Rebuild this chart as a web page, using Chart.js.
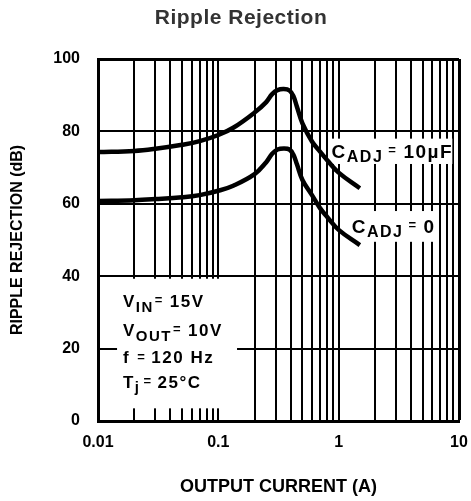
<!DOCTYPE html>
<html>
<head>
<meta charset="utf-8">
<title>Ripple Rejection</title>
<script src="https://cdn.jsdelivr.net/npm/chart.js@4.4.1/dist/chart.umd.min.js"></script>
<style>
  html, body { margin: 0; padding: 0; background: #fff; overflow: hidden; }
  #wrap { position: relative; width: 471px; height: 501px; }
  #rippleChart { display: block; }
</style>
</head>
<body>
<div id="wrap"><canvas id="rippleChart"></canvas></div>
<script>
// Data (output current in A, rejection in dB)
const currentA = [0.01, 0.02, 0.03, 0.05, 0.07, 0.1, 0.133, 0.2, 0.25, 0.28, 0.31, 0.35, 0.39, 0.42, 0.45, 0.5, 0.6, 0.7, 0.8, 1.0, 1.5];
const rejectionAdj10uF = [74.3, 74.6, 75.2, 76.3, 77.3, 79.0, 81.0, 85.2, 88.1, 90.3, 91.4, 91.7, 91.3, 89.8, 86.8, 82.2, 77.2, 74.4, 72.1, 68.6, 64.3];
const rejectionAdj0 = [60.8, 61.0, 61.3, 61.8, 62.4, 63.6, 65.0, 68.2, 71.5, 73.8, 75.0, 75.3, 75.0, 73.6, 70.9, 66.6, 62.4, 58.8, 56.4, 52.8, 48.6];

// Axis ticks
const xGridValues = [0.01, 0.02, 0.03, 0.04, 0.05, 0.06, 0.07, 0.08, 0.09,
                     0.1, 0.2, 0.3, 0.4, 0.5, 0.6, 0.7, 0.8, 0.9,
                     1, 2, 3, 4, 5, 6, 7, 8, 9, 10];
const xLabelValues = [0.01, 0.1, 1, 10];
const xLabelText = ['0.01', '0.1', '1', '10'];
const yTickValues = [0, 20, 40, 60, 80, 100];

const FONT = '"Liberation Sans", Arial, Helvetica, sans-serif';

/**
 * HELPER: draw a run of text pieces (main / subscript / raised "=")
 */
function drawRich(ctx, left, base, parts) {
    let cx = left;
    parts.forEach(p => {
        ctx.font = `bold ${p.size}px ${FONT}`;
        ctx.fillText(p.t, cx, base + (p.dy || 0));
        cx += ctx.measureText(p.t).width + (p.gap || 0);
    });
}

function whiteBox(ctx, x, y, x0, x1, y0, y1) {
    const l = x.getPixelForValue(x0), r = x.getPixelForValue(x1);
    const t = y.getPixelForValue(y1), b = y.getPixelForValue(y0);
    ctx.fillRect(l, t, r - l, b - t);
}

// Notes and curve labels, drawn over the grid but under the curves
const notesPlugin = {
    id: 'notes',
    beforeDatasetsDraw(chart) {
        const { ctx, scales: { x, y } } = chart;
        ctx.save();
        ctx.fillStyle = '#fff';
        whiteBox(ctx, x, y, 0.0144, 0.143, 3.5, 39.3);
        whiteBox(ctx, x, y, 0.83, 8.8, 71, 78);
        whiteBox(ctx, x, y, 1.17, 6.1, 49.5, 58);

        ctx.fillStyle = '#000';
        ctx.textBaseline = 'alphabetic';
        ctx.textAlign = 'left';
        ctx.letterSpacing = '1.5px';

        const tx = x.getPixelForValue(0.0161);
        drawRich(ctx, tx, y.getPixelForValue(31.5), [
            { t: 'V', size: 17 }, { t: 'IN', size: 15, dy: 5, gap: 1 },
            { t: '=', size: 13, dy: -3, gap: 6 }, { t: '15V', size: 17 }
        ]);
        drawRich(ctx, tx, y.getPixelForValue(23.5), [
            { t: 'V', size: 17 }, { t: 'OUT', size: 15, dy: 5, gap: 1 },
            { t: '=', size: 13, dy: -3, gap: 6 }, { t: '10V', size: 17 }
        ]);
        drawRich(ctx, tx, y.getPixelForValue(16), [
            { t: 'f ', size: 17, gap: 1 }, { t: '=', size: 13, dy: -2, gap: 5 },
            { t: '120 Hz', size: 17 }
        ]);
        drawRich(ctx, tx, y.getPixelForValue(9.1), [
            { t: 'T', size: 17 }, { t: 'j', size: 15, dy: 4, gap: 3 },
            { t: '=', size: 13, dy: -3, gap: 5 }, { t: '25°C', size: 17 }
        ]);

        drawRich(ctx, x.getPixelForValue(0.873), y.getPixelForValue(72.6), [
            { t: 'C', size: 19 }, { t: 'ADJ', size: 16, dy: 4, gap: 5 },
            { t: '=', size: 13, dy: -4, gap: 6 }, { t: '10µF', size: 19 }
        ]);
        drawRich(ctx, x.getPixelForValue(1.285), y.getPixelForValue(51.9), [
            { t: 'C', size: 19 }, { t: 'ADJ', size: 16, dy: 4, gap: 5 },
            { t: '=', size: 13, dy: -4, gap: 6 }, { t: '0', size: 19 }
        ]);
        ctx.restore();
    },
    afterDraw(chart) {
        const { ctx } = chart;
        ctx.save();
        ctx.fillStyle = '#333';
        ctx.font = `bold 21px ${FONT}`;
        ctx.letterSpacing = '0.5px';
        ctx.textAlign = 'center';
        ctx.textBaseline = 'alphabetic';
        ctx.fillText('Ripple Rejection', 241, 24);
        ctx.restore();
    }
};

function toPoints(values) {
    return currentA.map((c, i) => ({ x: c, y: values[i] }));
}

const curveStyle = {
    borderColor: '#000',
    borderWidth: 4.5,
    pointRadius: 0,
    fill: false,
    tension: 0.4
};

new Chart(document.getElementById('rippleChart'), {
    type: 'line',
    data: {
        datasets: [
            { label: 'CADJ = 10µF', data: toPoints(rejectionAdj10uF), ...curveStyle },
            { label: 'CADJ = 0', data: toPoints(rejectionAdj0), ...curveStyle }
        ]
    },
    options: {
        responsive: true,
        maintainAspectRatio: false,
        animation: false,
        layout: { padding: { left: 0, right: 12, top: 59, bottom: 0 } },
        plugins: {
            legend: { display: false },
            tooltip: { enabled: false },
            title: { display: false }
        },
        scales: {
            x: {
                type: 'logarithmic',
                min: 0.01,
                max: 10,
                afterBuildTicks: s => { s.ticks = xGridValues.map(v => ({ value: v })); },
                afterFit: s => { s.height = 80; s.paddingLeft = 0; s.paddingRight = 0; },
                ticks: {
                    autoSkip: false,
                    maxRotation: 0,
                    color: '#000',
                    padding: 12,
                    font: { family: FONT, size: 16, weight: 'bold' },
                    callback: v => {
                        const i = xLabelValues.findIndex(d => Math.abs(d - v) < d * 1e-6);
                        return i >= 0 ? xLabelText[i] : '';
                    }
                },
                grid: {
                    color: '#000',
                    drawTicks: false,
                    lineWidth: c => (c.tick && c.tick.value >= 10 ? 3 : 2)
                },
                border: { color: '#000', width: 3 },
                title: {
                    display: true,
                    text: 'OUTPUT CURRENT (A)',
                    color: '#000',
                    font: { family: FONT, size: 18, weight: 'bold' },
                    padding: { top: 0, bottom: 3.5 }
                }
            },
            y: {
                min: 0,
                max: 100,
                afterBuildTicks: s => { s.ticks = yTickValues.map(v => ({ value: v })); },
                afterFit: s => { s.width = 98; },
                ticks: {
                    color: '#000',
                    padding: 18,
                    font: { family: FONT, size: 16, weight: 'bold' }
                },
                grid: {
                    color: '#000',
                    drawTicks: false,
                    lineWidth: c => (c.tick && c.tick.value >= 100 ? 3 : 2)
                },
                border: { color: '#000', width: 3 },
                title: {
                    display: true,
                    text: 'RIPPLE REJECTION (dB)',
                    color: '#000',
                    font: { family: FONT, size: 16, weight: 'bold' },
                    padding: { top: 8.4, bottom: 0 }
                }
            }
        }
    },
    plugins: [notesPlugin]
});
</script>
</body>
</html>
